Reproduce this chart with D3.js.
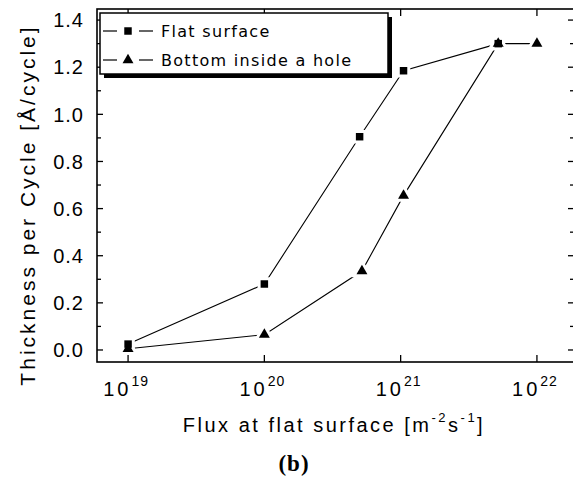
<!DOCTYPE html>
<html>
<head>
<meta charset="utf-8">
<script src="https://cdn.jsdelivr.net/npm/d3@7"></script>
<style>
  body { margin: 0; background: #fff; }
  svg { display: block; }
  text { fill: #000; }
</style>
</head>
<body>
<div id="chart"></div>
<script>
// data
var seriesNames = ['Flat surface', 'Bottom inside a hole'];
var flatFlux = [1e19, 1e20, 5e20, 1.05e21, 5.2e21];
var flatThick = [0.025, 0.28, 0.905, 1.185, 1.30];
var holeFlux = [1e19, 1e20, 5.2e20, 1.05e21, 5.2e21, 1e22];
var holeThick = [0.005, 0.065, 0.335, 0.655, 1.30, 1.30];
var xTickExps = [19, 20, 21, 22];
var yTicks = [0.0, 0.2, 0.4, 0.6, 0.8, 1.0, 1.2, 1.4];

var width = 573, height = 479;
var plotL = 97, plotR = 574, plotT = 9, plotB = 362;

var svg = d3.select('#chart').append('svg')
    .attr('width', width)
    .attr('height', height);

var x = d3.scaleLog().domain([Math.pow(10, 18.772), Math.pow(10, 22.272)]).range([plotL, plotR]);
var y = d3.scaleLinear().domain([-0.051, 1.447]).range([plotB, plotT]);

var font = '"Liberation Sans", Arial, sans-serif';

// frame
svg.append('rect')
    .attr('x', plotL).attr('y', plotT)
    .attr('width', plotR - plotL).attr('height', plotB - plotT)
    .attr('fill', 'none').attr('stroke', '#000').attr('stroke-width', 1.6);

// y ticks (inward, both sides) with minor ticks
var yMinor = d3.range(0, 15).map(function (i) { return i / 10; });
yMinor.forEach(function (v, i) {
    var len = i % 2 === 0 ? 6 : 4;
    svg.append('line').attr('x1', plotL).attr('x2', plotL + len)
        .attr('y1', y(v)).attr('y2', y(v)).attr('stroke', '#000').attr('stroke-width', 1.3);
    svg.append('line').attr('x1', plotR).attr('x2', plotR - len)
        .attr('y1', y(v)).attr('y2', y(v)).attr('stroke', '#000').attr('stroke-width', 1.3);
});

svg.selectAll('.ylab').data(yTicks).enter().append('text')
    .attr('x', 84).attr('y', function (d) { return y(d); })
    .attr('dy', '0.36em')
    .attr('text-anchor', 'end')
    .style('font-family', font).style('font-size', '20px')
    .style('letter-spacing', '1px')
    .text(function (d) { return d.toFixed(1); });

// x ticks (inward, top and bottom)
xTickExps.forEach(function (e) {
    var px = x(Math.pow(10, e));
    svg.append('line').attr('x1', px).attr('x2', px)
        .attr('y1', plotB).attr('y2', plotB - 7).attr('stroke', '#000').attr('stroke-width', 1.3);
    svg.append('line').attr('x1', px).attr('x2', px)
        .attr('y1', plotT).attr('y2', plotT + 7).attr('stroke', '#000').attr('stroke-width', 1.3);
    var t = svg.append('text')
        .attr('x', px - 2).attr('y', 396)
        .attr('text-anchor', 'middle')
        .style('font-family', font).style('font-size', '20px')
        .style('letter-spacing', '3px');
    t.append('tspan').text('10');
    t.append('tspan').attr('dy', -10).style('font-size', '14px').style('letter-spacing', '1px').text(e);
});

// axis titles
svg.append('text')
    .attr('transform', 'translate(35,205) rotate(-90)')
    .attr('text-anchor', 'middle')
    .style('font-family', font).style('font-size', '21px')
    .style('letter-spacing', '3px')
    .text('Thickness per Cycle [\u00C5/cycle]');

var xt = svg.append('text')
    .attr('x', 334).attr('y', 432)
    .attr('text-anchor', 'middle')
    .style('font-family', font).style('font-size', '20px')
    .style('letter-spacing', '2.5px');
xt.append('tspan').text('Flux at flat surface [m');
xt.append('tspan').attr('dy', -10).style('font-size', '13px').text('-2');
xt.append('tspan').attr('dy', 10).text('s');
xt.append('tspan').attr('dy', -10).style('font-size', '13px').text('-1');
xt.append('tspan').attr('dy', 10).text(']');

svg.append('text')
    .attr('x', 294).attr('y', 471)
    .attr('text-anchor', 'middle')
    .style('font-family', '"Liberation Serif", "Times New Roman", serif')
    .style('font-size', '23px').style('font-weight', 'bold')
    .style('letter-spacing', '1px')
    .text('(b)');

// series
var line = d3.line()
    .x(function (d) { return x(d[0]); })
    .y(function (d) { return y(d[1]); });

var flatPts = flatFlux.map(function (f, i) { return [f, flatThick[i]]; });
var holePts = holeFlux.map(function (f, i) { return [f, holeThick[i]]; });

[flatPts, holePts].forEach(function (pts) {
    svg.append('path').datum(pts)
        .attr('d', line)
        .attr('fill', 'none').attr('stroke', '#000').attr('stroke-width', 1.1);
});

var square = d3.symbol().type(d3.symbolSquare).size(56);
var triangle = d3.symbol().type(d3.symbolTriangle).size(52);
var markerSets = [[flatPts, square], [holePts, triangle]];

function place(d) { return 'translate(' + x(d[0]) + ',' + y(d[1]) + ')'; }

// white halos first so lines stop short of markers, then the solid markers
markerSets.forEach(function (s) {
    svg.append('g').selectAll('path').data(s[0]).enter().append('path')
        .attr('transform', place).attr('d', s[1])
        .attr('fill', '#fff').attr('stroke', '#fff').attr('stroke-width', 6);
});
markerSets.forEach(function (s) {
    svg.append('g').selectAll('path').data(s[0]).enter().append('path')
        .attr('transform', place).attr('d', s[1])
        .attr('fill', '#000');
});

// legend with drop shadow
var lg = svg.append('g');
lg.append('rect').attr('x', 104).attr('y', 17).attr('width', 288).attr('height', 61).attr('fill', '#000');
lg.append('rect').attr('x', 100).attr('y', 13).attr('width', 288).attr('height', 61)
    .attr('fill', '#fff').attr('stroke', '#000').attr('stroke-width', 1.5);

var symbols = [square, triangle];
seriesNames.forEach(function (name, i) {
    var ly = 31 + i * 29;
    lg.append('line').attr('x1', 103).attr('x2', 117).attr('y1', ly).attr('y2', ly)
        .attr('stroke', '#000').attr('stroke-width', 1.2);
    lg.append('line').attr('x1', 139).attr('x2', 153).attr('y1', ly).attr('y2', ly)
        .attr('stroke', '#000').attr('stroke-width', 1.2);
    lg.append('path').attr('transform', 'translate(128,' + ly + ')')
        .attr('d', symbols[i])
        .attr('fill', '#000');
    lg.append('text').attr('x', 161).attr('y', ly).attr('dy', '0.36em')
        .style('font-family', '"DejaVu Sans", sans-serif').style('font-size', '16px')
        .style('letter-spacing', '1.3px')
        .text(name);
});
</script>
</body>
</html>
